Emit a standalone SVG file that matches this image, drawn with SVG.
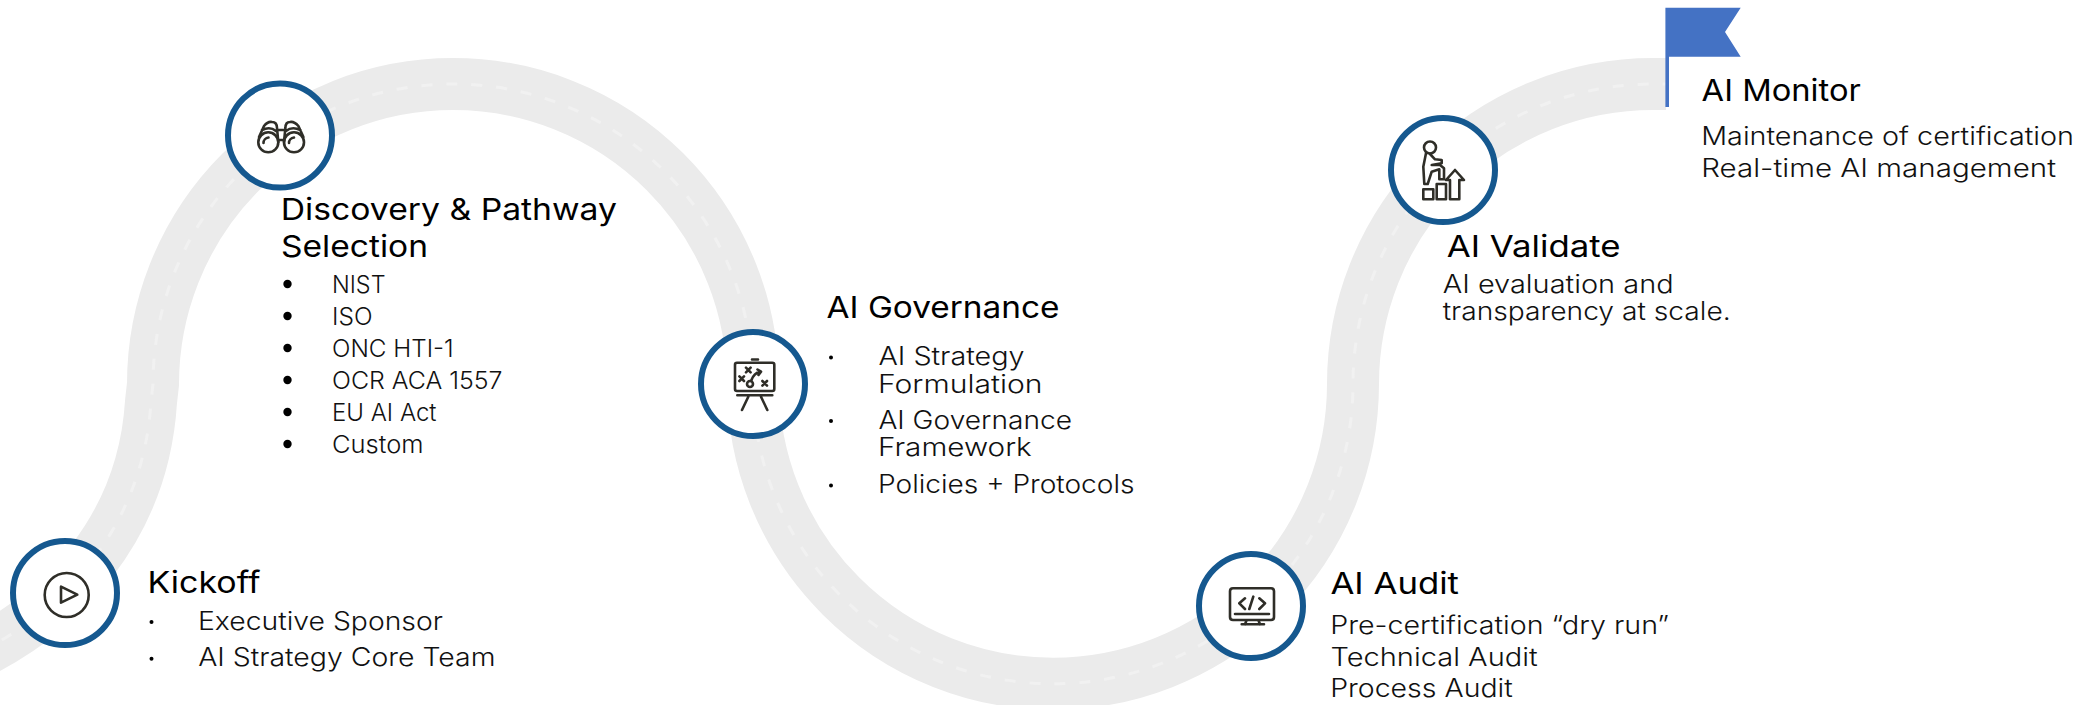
<svg xmlns="http://www.w3.org/2000/svg" width="2096" height="705" viewBox="0 0 2096 705">
<style>
text{font-family:Inter,"Liberation Sans",sans-serif;fill:#000}
.h{font-size:30px;font-weight:420}
.b{font-size:25.5px;font-weight:320;fill:#111}
.l{font-size:24px;font-weight:350;fill:#111}
.ring{fill:#fff;stroke:#15588f;stroke-width:6}
.ic{fill:none;stroke:#2f2e28;stroke-width:2.6;stroke-linecap:round;stroke-linejoin:round}
.road{fill:none;stroke:#ebebeb;stroke-width:52}
.dash{fill:none;stroke:#f1f1f1;stroke-width:3;stroke-dasharray:11 14}
</style>
<rect width="2096" height="705" fill="#fff"/>
<g id="connectors">
<path class="road" d="M-20,652 C60,612 143,530 151,402 L153,384 A300,300 0 0 1 753,384 A299,299 0 0 0 1353,384 A300,300 0 0 1 1653,84 L1666,84"/>
<path class="dash" d="M-20,652 C60,612 143,530 151,402 L153,384 A300,300 0 0 1 753,384 A299,299 0 0 0 1353,384 A300,300 0 0 1 1653,84 L1666,84"/>
</g>
<g id="kickoff">
<circle class="ring" cx="65" cy="593" r="52"/>
<circle class="ic" cx="66.7" cy="595" r="22"/>
<path class="ic" d="M61,586.7 V602.7 L77.3,594.7 Z"/>
<text class="h" x="147.5" y="593" textLength="113" lengthAdjust="spacingAndGlyphs">Kickoff</text>
<circle cx="151.5" cy="622" r="2"/><circle cx="151.5" cy="658.7" r="2"/>
<text class="b" x="198" y="629.5" textLength="245" lengthAdjust="spacingAndGlyphs">Executive Sponsor</text>
<text class="b" x="198.2" y="666.4" textLength="297.3" lengthAdjust="spacingAndGlyphs">AI Strategy Core Team</text>
</g>
<g id="discovery">
<circle class="ring" cx="280" cy="135.5" r="52"/>
<circle class="ic" cx="268.3" cy="142.3" r="10"/><circle class="ic" cx="294" cy="142.3" r="10"/>
<path class="ic" d="M259,137 L264,126 Q268,121 272,122 Q277,122 277,128 L278.3,142 M303.4,137 L298.4,126 Q294,121 290,122 Q285.4,122 285.4,128 L284,142 M278,130 H284.4 M278,140 H284.4 M263.5,143 A5.5,5.5 0 0 1 268.5,137.5 M289,143 A5.5,5.5 0 0 1 294,137.5 M262,130 Q270,126 276,131 M300.4,130 Q292,126 286,131"/>
<text class="h" x="280.8" y="219.6" textLength="336.2" lengthAdjust="spacingAndGlyphs">Discovery &amp; Pathway</text>
<text class="h" x="281" y="256.8" textLength="147" lengthAdjust="spacingAndGlyphs">Selection</text>
<circle cx="287.5" cy="284" r="4.2"/><circle cx="287.5" cy="316" r="4.2"/><circle cx="287.5" cy="348" r="4.2"/><circle cx="287.5" cy="380" r="4.2"/><circle cx="287.5" cy="412" r="4.2"/><circle cx="287.5" cy="444" r="4.2"/>
<text class="l" x="332" y="293" textLength="53.5" lengthAdjust="spacingAndGlyphs">NIST</text>
<text class="l" x="332" y="325" textLength="40.5" lengthAdjust="spacingAndGlyphs">ISO</text>
<text class="l" x="332" y="357" textLength="121.5" lengthAdjust="spacingAndGlyphs">ONC HTI-1</text>
<text class="l" x="332" y="389" textLength="170.5" lengthAdjust="spacingAndGlyphs">OCR ACA 1557</text>
<text class="l" x="332" y="421" textLength="104.5" lengthAdjust="spacingAndGlyphs">EU AI Act</text>
<text class="l" x="332" y="453" textLength="91.5" lengthAdjust="spacingAndGlyphs">Custom</text>
</g>
<g id="governance">
<circle class="ring" cx="753" cy="384" r="52"/>
<path class="ic" d="M752,359.5 H758 M737,362.7 H772.3 Q774.3,362.7 774.3,364.7 V389 Q774.3,391 772.3,391 H737 Q735,391 735,389 V364.7 Q735,362.7 737,362.7 Z M737.3,395.3 H772.3 M748.3,396.7 L742,410 M761,396.7 L767.3,410 M746,367.7 L750.6,372.3 M750.6,367.7 L746,372.3 M739.4,376.4 L744,381 M744,376.4 L739.4,381 M762.4,381 L767,385.6 M767,381 L762.4,385.6 M751.5,380 Q754,373 760,371.7 M757.5,369.5 L761,371.7 L758.5,375"/>
<circle class="ic" cx="750" cy="384" r="3"/>
<text class="h" x="826.5" y="318.3" textLength="233" lengthAdjust="spacingAndGlyphs">AI Governance</text>
<circle cx="831" cy="357.6" r="2"/><circle cx="831" cy="421" r="2"/><circle cx="831" cy="485.5" r="2"/>
<text class="b" x="878.4" y="365" textLength="146.2" lengthAdjust="spacingAndGlyphs">AI Strategy</text>
<text class="b" x="878" y="392.5" textLength="164.5" lengthAdjust="spacingAndGlyphs">Formulation</text>
<text class="b" x="878.4" y="429.4" textLength="193.6" lengthAdjust="spacingAndGlyphs">AI Governance</text>
<text class="b" x="878" y="456.3" textLength="153.8" lengthAdjust="spacingAndGlyphs">Framework</text>
<text class="b" x="878" y="493.3" textLength="256.5" lengthAdjust="spacingAndGlyphs">Policies + Protocols</text>
</g>
<g id="audit">
<circle class="ring" cx="1251" cy="606" r="52"/>
<path class="ic" d="M1233,588.3 H1271 Q1274,588.3 1274,591.3 V617 Q1274,620 1271,620 H1233 Q1230,620 1230,617 V591.3 Q1230,588.3 1233,588.3 Z M1235,614 H1269 M1246.7,620 L1245,624.3 M1258.3,620 L1260,624.3 M1241.7,624.3 H1264 M1245,598.3 L1239.3,603.3 L1245,609 M1253.3,596.7 L1249.3,609 M1259.3,598.3 L1265,603.3 L1259.3,609"/>
<text class="h" x="1330.4" y="594" textLength="128.6" lengthAdjust="spacingAndGlyphs">AI Audit</text>
<text class="b" x="1330.2" y="634" textLength="338.8" lengthAdjust="spacingAndGlyphs">Pre-certification “dry run”</text>
<text class="b" x="1330.5" y="665.7" textLength="207.2" lengthAdjust="spacingAndGlyphs">Technical Audit</text>
<text class="b" x="1330.2" y="697.3" textLength="182.5" lengthAdjust="spacingAndGlyphs">Process Audit</text>
</g>
<g id="validate">
<circle class="ring" cx="1443" cy="170" r="52"/>
<circle class="ic" cx="1430" cy="147.5" r="6"/>
<path class="ic" d="M1426,153.3 L1423.3,166.7 L1424.3,184 H1427.7 L1431.7,171.7 L1439.3,169.3 V179.3 H1444 V168.3 L1440,165 H1431.7 L1441.7,163.3 V160 L1435,159.3 L1430,154 M1423.3,189.3 H1433.3 V199.3 H1423.3 Z M1436.7,184 H1446 V199.3 H1436.7 Z M1450,199.3 H1459.3 V180 H1464 L1455,170 L1446,180 H1450 Z"/>
<text class="h" x="1446.7" y="256.7" textLength="173.9" lengthAdjust="spacingAndGlyphs">AI Validate</text>
<text class="b" x="1442.7" y="292.7" textLength="230.9" lengthAdjust="spacingAndGlyphs">AI evaluation and</text>
<text class="b" x="1442.7" y="320" textLength="288" lengthAdjust="spacingAndGlyphs">transparency at scale.</text>
</g>
<g id="monitor">
<path fill="#4472c4" d="M1665.4,7.7 H1740.7 L1725,32 L1740.7,56.7 H1669 V107 H1665.4 Z"/>
<text class="h" x="1701.6" y="101" textLength="159.2" lengthAdjust="spacingAndGlyphs">AI Monitor</text>
<text class="b" x="1701.2" y="145" textLength="372.8" lengthAdjust="spacingAndGlyphs">Maintenance of certification</text>
<text class="b" x="1701.2" y="177" textLength="354.8" lengthAdjust="spacingAndGlyphs">Real-time AI management</text>
</g>
</svg>
